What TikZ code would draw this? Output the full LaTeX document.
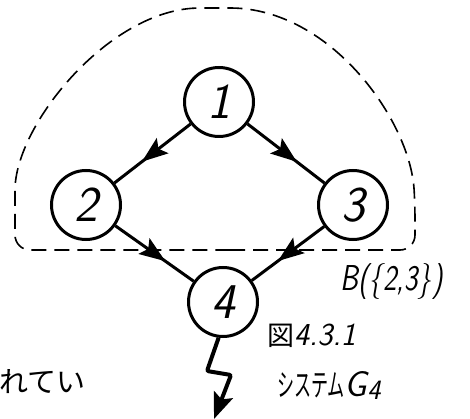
\documentclass[tikz,border=0pt]{standalone}
\usepackage{fontspec}
\usepackage{graphicx}
\newfontfamily\cjk{Noto Sans CJK JP}
\usetikzlibrary{arrows.meta,decorations.markings}
\newcommand{\narrow}[2][0.8]{\scalebox{#1}[1]{#2}}

\begin{document}
\begin{tikzpicture}[
    x=1pt, y=-1pt,
    state/.style={draw, circle, line width=3pt, minimum size=69pt, inner sep=0pt, font=\fontsize{50}{50}\selectfont\sffamily\slshape},
    flow/.style={line width=3pt, postaction={decorate}, decoration={markings, mark=at position #1 with {\arrow{Stealth[length=26pt,width=19pt,inset=5pt]}}}},
    flow/.default=0.64,
    region/.style={dash pattern=on 15pt off 8pt, line width=1.6pt, rounded corners=15pt},
    bolt/.style={line width=4pt, rounded corners=2pt, -{Stealth[length=26pt,width=20pt,inset=5pt]}},
    hand/.style={inner sep=0pt, anchor=base west, font=\fontsize{36}{36}\selectfont\sffamily\slshape},
    jtext/.style={inner sep=0pt, anchor=base west, font=\fontsize{29}{29}\selectfont\cjk}
]
\useasboundingbox (0,0) rectangle (470,419);
\node[state] (n1) at (219,102) {1};
\node[state] (n2) at (86,205) {2};
\node[state] (n3) at (353,205) {3};
\node[state] (n4) at (223,302) {4};
\draw[region] (215,250) -- (415,250) -- (415,205) .. controls (410,120) and (330,8) .. (215,8) .. controls (110,8) and (15,125) .. (15,205) -- (15,250) -- cycle;
\draw[flow] (n1) -- (n2);
\draw[flow] (n1) -- (n3);
\draw[flow] (n2) -- (n4);
\draw[flow] (n3) -- (n4);
\coordinate (out) at (214,419);
\draw[bolt] (n4.-97) -- (207,371) -- (231,375) -- (out);
\node[hand] (setlabel) at (340,290) {\narrow{B(\{2,3\})}};
\node[hand, font=\fontsize{32}{32}\selectfont\sffamily\slshape] (figno) at (267,345) {{\cjk\fontsize{27}{27}\selectfont 図}4.3.1};
\node[hand] (sysname) at (277,396) {{\cjk\fontsize{31}{31}\selectfont\narrow[0.55]{システム}}G\raisebox{-3pt}{\fontsize{28}{28}\selectfont 4}};
\node[jtext] (bodytext) at (-1,392) {れてい};
\end{tikzpicture}
\end{document}
